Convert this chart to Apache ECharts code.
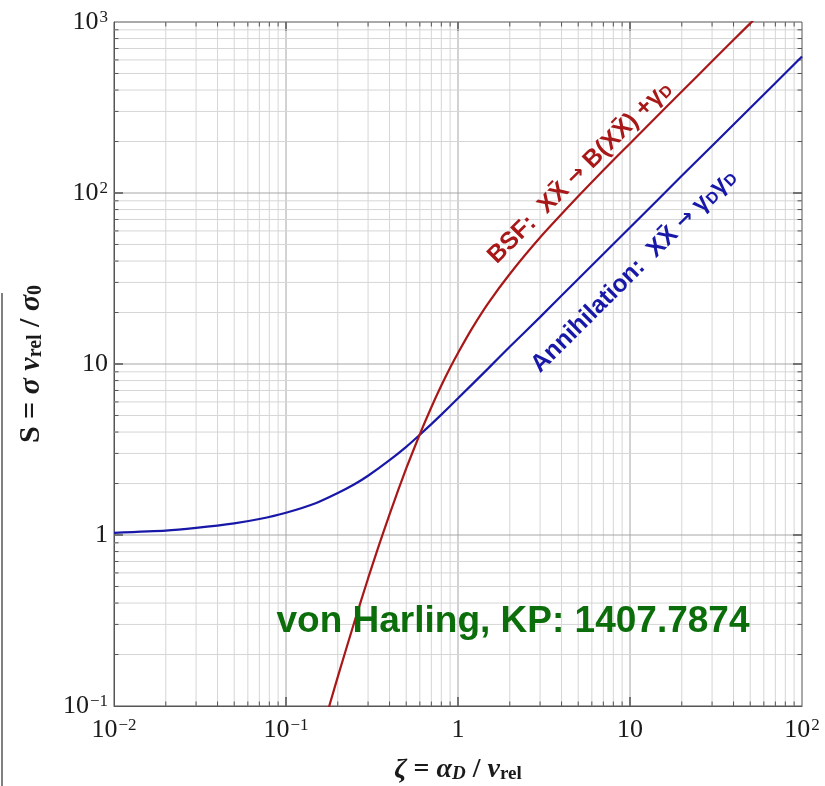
<!DOCTYPE html>
<html><head><meta charset="utf-8">
<script src="https://cdn.jsdelivr.net/npm/echarts@6/dist/echarts.min.js"></script>
<style>html,body{margin:0;padding:0;background:#fff}#c{width:825px;height:786px}</style>
</head><body><div id="c"></div>
<script>
// ---- data ----
const annZeta = [0.01,0.02,0.03,0.05,0.07,0.1,0.15,0.2,0.25,0.3,0.4,0.5,0.6,0.7,0.8,1,1.5,2,3,5,10,20,50,100];
const annS    = [1.03,1.06,1.10,1.17,1.24,1.35,1.54,1.76,1.98,2.22,2.74,3.28,3.86,4.45,5.06,6.30,9.43,12.6,18.8,31.4,62.8,126,314,628];
const bsfZeta = [0.15,0.18,0.2,0.25,0.3,0.35,0.4,0.45,0.5,0.6,0.7,0.8,0.9,1,1.2,1.5,2,3,5,7,10,15,20,30,50,55];
const bsfS    = [0.054,0.103,0.148,0.311,0.557,0.894,1.32,1.84,2.45,3.89,5.59,7.48,9.50,11.6,16.0,22.7,33.6,54.9,95.6,136,195,294,392,589,982,1080];

const xTickExp = [-2,-1,0,1,2];
const xTickLabels = ['{b|10}{s|−2}','{b|10}{s|−1}','{b|1}','{b|10}','{b|10}{s|2}'];
const yTickExp = [-1,0,1,2,3];
const yTickLabels = ['{b|10}{s|−1}','{b|1}','{b|10}','{b|10}{s|2}','{b|10}{s|3}'];

const X_MIN = 0.01, X_MAX = 100, Y_MIN = 0.1, Y_MAX = 1000;
const minorMult = [2,3,4,5,6,7,8,9];
const xDecades = [0.01,0.1,1,10];
const yDecades = [0.1,1,10,100];

const xGrid = [], yGrid = [];
xDecades.forEach((d,i)=>{ if(i>0) xGrid.push([d,2]); minorMult.forEach(m=>xGrid.push([d*m,1])); });
yDecades.forEach((d,i)=>{ if(i>0) yGrid.push([d,2]); minorMult.forEach(m=>yGrid.push([d*m,1])); });

const SERIF = '"Liberation Serif", "DejaVu Serif", serif';
const SANS = '"Liberation Sans", Arial, sans-serif';
const TXT = '#1a1a1a';
const tickRich = {
  b: {fontFamily: SERIF, fontSize: 26, color: TXT},
  s: {fontFamily: SERIF, fontSize: 17, color: TXT, verticalAlign: 'top', padding: [0,0,0,1]}
};

function lookup(exps, labels, v){
  const e = Math.round(Math.log10(v));
  const i = exps.indexOf(e);
  return i >= 0 ? labels[i] : '';
}

const GRID_MAJOR = '#a6a6a6', GRID_MINOR = '#d6d6d6', AXIS = '#555555';

function gridRender(vertical){
  return function(params, api){
    const v = api.value(0), major = api.value(1) === 2;
    const p0 = vertical ? api.coord([v, Y_MIN]) : api.coord([X_MIN, v]);
    const p1 = vertical ? api.coord([v, Y_MAX]) : api.coord([X_MAX, v]);
    const tl = major ? 9 : 4.5;
    const lw = major ? 1.5 : 1;
    const children = [
      {type:'line', shape:{x1:p0[0],y1:p0[1],x2:p1[0],y2:p1[1]}, style:{stroke: major?GRID_MAJOR:GRID_MINOR, lineWidth:1}}
    ];
    if (vertical){
      children.push({type:'line', shape:{x1:p0[0],y1:p0[1],x2:p0[0],y2:p0[1]-tl}, style:{stroke:AXIS,lineWidth:lw}});
      children.push({type:'line', shape:{x1:p1[0],y1:p1[1],x2:p1[0],y2:p1[1]+tl}, style:{stroke:AXIS,lineWidth:lw}});
    } else {
      children.push({type:'line', shape:{x1:p0[0],y1:p0[1],x2:p0[0]+tl,y2:p0[1]}, style:{stroke:AXIS,lineWidth:lw}});
      children.push({type:'line', shape:{x1:p1[0],y1:p1[1],x2:p1[0]-tl,y2:p1[1]}, style:{stroke:AXIS,lineWidth:lw}});
    }
    return {type:'group', children};
  };
}

const makeNameRich = (fs, sfs) => ({
  i:{fontFamily:SERIF, fontSize:fs, fontStyle:'italic', fontWeight:'bold', color:TXT},
  n:{fontFamily:SERIF, fontSize:fs, fontWeight:'bold', color:TXT},
  sub:{fontFamily:SERIF, fontSize:sfs, fontStyle:'italic', fontWeight:'bold', color:TXT, verticalAlign:'bottom'},
  subr:{fontFamily:SERIF, fontSize:sfs, fontWeight:'bold', color:TXT, verticalAlign:'bottom'}
});

const chart = echarts.init(document.getElementById('c'), null, {renderer:'canvas'});
chart.setOption({
  animation: false,
  backgroundColor: '#ffffff',
  grid: {left:114, right:23, top:22, bottom:80, show:true, borderColor:AXIS, borderWidth:1, backgroundColor:'transparent',
         containLabel:false, outerBoundsMode:'none'},
  xAxis: {
    type:'log', logBase:10, min:X_MIN, max:X_MAX, splitNumber:4,
    axisLine:{show:true, lineStyle:{color:AXIS}}, axisTick:{show:false}, splitLine:{show:false},
    axisLabel:{margin:11, formatter: v => lookup(xTickExp, xTickLabels, v), rich: tickRich, showMinLabel:true, showMaxLabel:true},
    name: '{i|ζ}{n| = }{i|α}{sub|D}{n| / }{i|v}{subr|rel}',
    nameLocation:'middle', nameGap:50,
    nameTextStyle:{rich:makeNameRich(28, 19)}
  },
  yAxis: {
    type:'log', logBase:10, min:Y_MIN, max:Y_MAX, splitNumber:4,
    axisLine:{show:true, lineStyle:{color:AXIS}}, axisTick:{show:false}, splitLine:{show:false},
    axisLabel:{margin:6, formatter: v => lookup(yTickExp, yTickLabels, v), rich: tickRich, showMinLabel:true, showMaxLabel:true},
    name: '{n|S = }{i|σ }{i|v}{subr|rel}{n| / }{i|σ}{subr|0}',
    nameLocation:'middle', nameGap:68, nameRotate:90,
    nameTextStyle:{rich:makeNameRich(30, 20)}
  },
  series: [
    {type:'custom', data:xGrid, encode:{x:0}, renderItem:gridRender(true), silent:true, z:1, clip:false},
    {type:'custom', data:yGrid, encode:{y:0}, renderItem:gridRender(false), silent:true, z:1, clip:false},
    {type:'line', name:'Annihilation', data: annZeta.map((x,i)=>[x, annS[i]]), showSymbol:false, smooth:0.2,
      lineStyle:{color:'#1818a8', width:2.2}, itemStyle:{color:'#1818a8'}, z:3, clip:true},
    {type:'line', name:'BSF', data: bsfZeta.map((x,i)=>[x, bsfS[i]]), showSymbol:false, smooth:0.2,
      lineStyle:{color:'#a81818', width:2.2}, itemStyle:{color:'#a81818'}, z:4, clip:true}
  ]
});

// annotations
const pA = chart.convertToPixel({gridIndex:0}, [1, 1]);
const pB = chart.convertToPixel({gridIndex:0}, [10, 10]);
const angle = Math.atan2(pA[1]-pB[1], pB[0]-pA[0]);
const bsfPos = chart.convertToPixel({gridIndex:0}, [5.1, 132]);
const annPos = chart.convertToPixel({gridIndex:0}, [10.5, 35]);

const labRich = (col) => ({
  t:{fontFamily:SANS, fontSize:24.5, fontWeight:'bold', fill:col, color:col},
  a:{fontFamily:'"DejaVu Sans", sans-serif', fontSize:21, fontWeight:'bold', fill:col, color:col},
  d:{fontFamily:SANS, fontSize:16, fontWeight:'bold', fill:col, color:col, verticalAlign:'bottom'}
});

chart.setOption({
  graphic: [
    {type:'text', x:bsfPos[0], y:bsfPos[1], rotation:angle, z:10,
      style:{text:'{t|BSF:  XX̄ }{a|→}{t| B(XX̄) +γ}{d|D}', rich:labRich('#a81818'), align:'center', verticalAlign:'middle'}},
    {type:'text', x:annPos[0], y:annPos[1], rotation:angle, z:10,
      style:{text:'{t|Annihilation:  XX̄ }{a|→}{t| γ}{d|D}{t|γ}{d|D}', rich:labRich('#1818a8'), align:'center', verticalAlign:'middle'}},
    {type:'text', x:513, y:622, z:10,
      style:{text:'von Harling, KP: 1407.7874', font:'bold 37px ' + SANS, fill:'#0b6e0b', align:'center', verticalAlign:'middle'}},
    {type:'line', shape:{x1:2, y1:293, x2:2, y2:786}, style:{stroke:'#808080', lineWidth:2}, z:10}
  ]
});
</script>
</body></html>
